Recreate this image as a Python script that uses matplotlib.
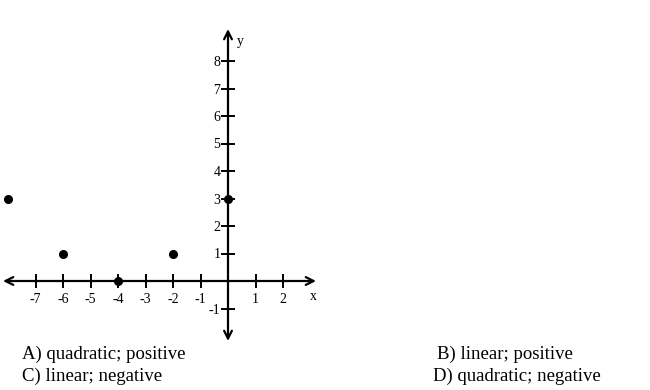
import matplotlib
matplotlib.use("Agg")
import matplotlib.pyplot as plt

# scatter points
xs = [-8, -6, -4, -2, 0]
ys = [3, 1, 0, 1, 3]

x_ticks = [-7, -6, -5, -4, -3, -2, -1, 1, 2]
y_ticks = [-1, 1, 2, 3, 4, 5, 6, 7, 8]

choices = ["A) quadratic; positive", "B) linear; positive",
           "C) linear; negative", "D) quadratic; negative"]

plt.rcParams["font.family"] = ["Liberation Serif", "DejaVu Serif"]

W, H = 650, 390
fig = plt.figure(figsize=(6.5, 3.9), dpi=100)
fig.patch.set_facecolor("white")

# axes box in pixels: x 0..320, y 25..345 ; 27.5 px per unit, origin at (228, 281)
ax = fig.add_axes([0, 1 - 345 / H, 320 / W, 320 / H])
scale = 27.5
ax.set_xlim((0 - 228) / scale, (320 - 228) / scale)
ax.set_ylim((281 - 345) / scale, (281 - 25) / scale)
ax.patch.set_alpha(0)

for s in ax.spines.values():
    s.set_visible(False)
ax.spines["left"].set_position(("data", 0))
ax.spines["bottom"].set_position(("data", 0))

# axis lines with open arrowheads
x_lo, x_hi = (3 - 228) / scale, (316 - 228) / scale
y_lo, y_hi = (281 - 341) / scale, (281 - 29) / scale
arrow = dict(arrowstyle="<->", color="black", lw=1.6, shrinkA=0, shrinkB=0,
             mutation_scale=14)
ax.annotate("", xy=(x_hi, 0), xytext=(x_lo, 0), arrowprops=arrow)
ax.annotate("", xy=(0, y_hi), xytext=(0, y_lo), arrowprops=arrow)

ax.set_xticks(x_ticks)
ax.set_xticklabels([str(v) for v in x_ticks])
ax.set_yticks(y_ticks)
ax.set_yticklabels([str(v) for v in y_ticks])
ax.tick_params(axis="x", direction="inout", length=10, width=1.4, pad=3.5, labelsize=10)
ax.tick_params(axis="y", direction="inout", length=10, width=1.4, pad=0.5, labelsize=10)

ax.plot(xs, ys, "o", color="black", markersize=5.5, zorder=5, clip_on=False)

ax.text((313 - 228) / scale, (281 - 296) / scale, "x", fontsize=10, ha="center", va="center")
ax.text((240 - 228) / scale, (281 - 42) / scale, "y", fontsize=10, ha="center", va="center")

# answer choices
pos = [(22, 354), (437, 354), (22, 376), (433, 376)]
for txt, (px, py) in zip(choices, pos):
    fig.text(px / W, 1 - py / H, txt, fontsize=13.5, ha="left", va="center")

fig.savefig("out.png", dpi=100, facecolor="white")
